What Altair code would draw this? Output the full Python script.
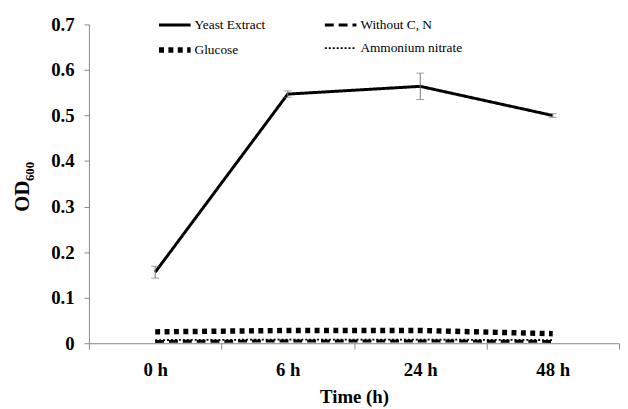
import altair as alt
import pandas as pd

times = ["0 h", "6 h", "24 h", "48 h"]
series = ["Yeast Extract", "Glucose", "Without C, N", "Ammonium nitrate"]
yeast = [0.156, 0.547, 0.564, 0.500]
yeast_err = [0.013, 0.007, 0.029, 0.004]
without_cn = [0.004, 0.005, 0.005, 0.004]
glucose = [0.025, 0.028, 0.028, 0.021]
ammonium = [0.007, 0.008, 0.008, 0.007]

vals = {"Yeast Extract": yeast, "Without C, N": without_cn,
        "Glucose": glucose, "Ammonium nitrate": ammonium}
rows = []
for s in series:
    for t, v in zip(times, vals[s]):
        rows.append({"time": t, "series": s, "value": v})
df = pd.DataFrame(rows)
err = pd.DataFrame({"time": times,
                    "lo": [v - e for v, e in zip(yeast, yeast_err)],
                    "hi": [v + e for v, e in zip(yeast, yeast_err)]})

FONT = "Liberation Serif"
dashes = [[1, 0], [5, 4.5], [9, 5], [2, 2]]
widths = [3, 5.5, 3, 1.8]

xscale = alt.Scale(type="band", domain=times, paddingInner=0, paddingOuter=0)
yscale = alt.Scale(domain=[0, 0.7], nice=False)

width_expr = ("datum.value == 'Glucose' ? 5.5 : "
              "datum.value == 'Ammonium nitrate' ? 1.8 : 3")
legend = alt.Legend(title=None, orient="none", legendX=68, legendY=-17,
                    columns=2, columnPadding=54, rowPadding=-5, padding=0,
                    symbolType="stroke", symbolSize=1024, symbolStrokeColor="black",
                    symbolStrokeWidth=alt.ExprRef(expr=width_expr),
                    labelFont=FONT, labelFontSize=13.5,
                    labelColor="black", labelOffset=1)

xaxis = alt.Axis(title="Time (h)", tickBand="extent", labelAngle=0,
                 labelFont=FONT, labelFontSize=19, labelFontWeight="bold",
                 labelColor="black", labelPadding=12, tickSize=6,
                 tickColor="#888", domainColor="#888", titleFont=FONT,
                 titleFontSize=19, titleFontWeight="bold", titleColor="black",
                 titlePadding=8, grid=False)
yaxis = alt.Axis(title=None, values=[0, 0.1, 0.2, 0.3, 0.4, 0.5, 0.6, 0.7],
                 labelExpr="datum.value == 0 ? '0' : format(datum.value, '.1f')",
                 labelFont=FONT, labelFontSize=19, labelFontWeight="bold",
                 labelColor="black", labelPadding=10, tickSize=5,
                 tickColor="#888", domainColor="#888", grid=False)

lines = alt.Chart(df).mark_line(color="black").encode(
    x=alt.X("time:N", sort=times, scale=xscale, axis=xaxis, bandPosition=0.5),
    y=alt.Y("value:Q", scale=yscale, axis=yaxis),
    strokeDash=alt.StrokeDash("series:N", scale=alt.Scale(domain=series, range=dashes),
                              legend=legend),
    strokeWidth=alt.StrokeWidth("series:N",
                                scale=alt.Scale(type="ordinal", domain=series, range=widths),
                                legend=None),
    detail="series:N",
)

bars = alt.Chart(err).mark_rule(color="#777", strokeWidth=1).encode(
    x=alt.X("time:N", sort=times, scale=xscale, bandPosition=0.5),
    y=alt.Y("lo:Q", scale=yscale),
    y2="hi:Q",
)
caps_lo = alt.Chart(err).mark_tick(color="#777", thickness=1, size=8, orient="horizontal").encode(
    x=alt.X("time:N", sort=times, scale=xscale, bandPosition=0.5),
    y=alt.Y("lo:Q", scale=yscale),
)
caps_hi = alt.Chart(err).mark_tick(color="#777", thickness=1, size=8, orient="horizontal").encode(
    x=alt.X("time:N", sort=times, scale=xscale, bandPosition=0.5),
    y=alt.Y("hi:Q", scale=yscale),
)

od = alt.Chart(pd.DataFrame({"t": ["OD"]})).mark_text(
    font=FONT, fontSize=21, fontWeight="bold", angle=270, align="center",
    baseline="middle", color="black").encode(
    text="t:N", x=alt.value(-67), y=alt.value(174))
sub = alt.Chart(pd.DataFrame({"t": ["600"]})).mark_text(
    font=FONT, fontSize=13, fontWeight="bold", angle=270, align="center",
    baseline="middle", color="black").encode(
    text="t:N", x=alt.value(-60), y=alt.value(149))

chart = alt.layer(lines, bars, caps_lo, caps_hi, od, sub).properties(
    width=537, height=323,
    autosize=alt.AutoSizeParams(type="none"),
    padding={"left": 82, "top": 14, "right": 1, "bottom": 64},
).configure_view(stroke=None).configure_legend(
    labelFont=FONT, labelFontSize=13.5, labelColor="black"
)

chart.save("out.html", embed_options={"renderer": "svg", "actions": False})
